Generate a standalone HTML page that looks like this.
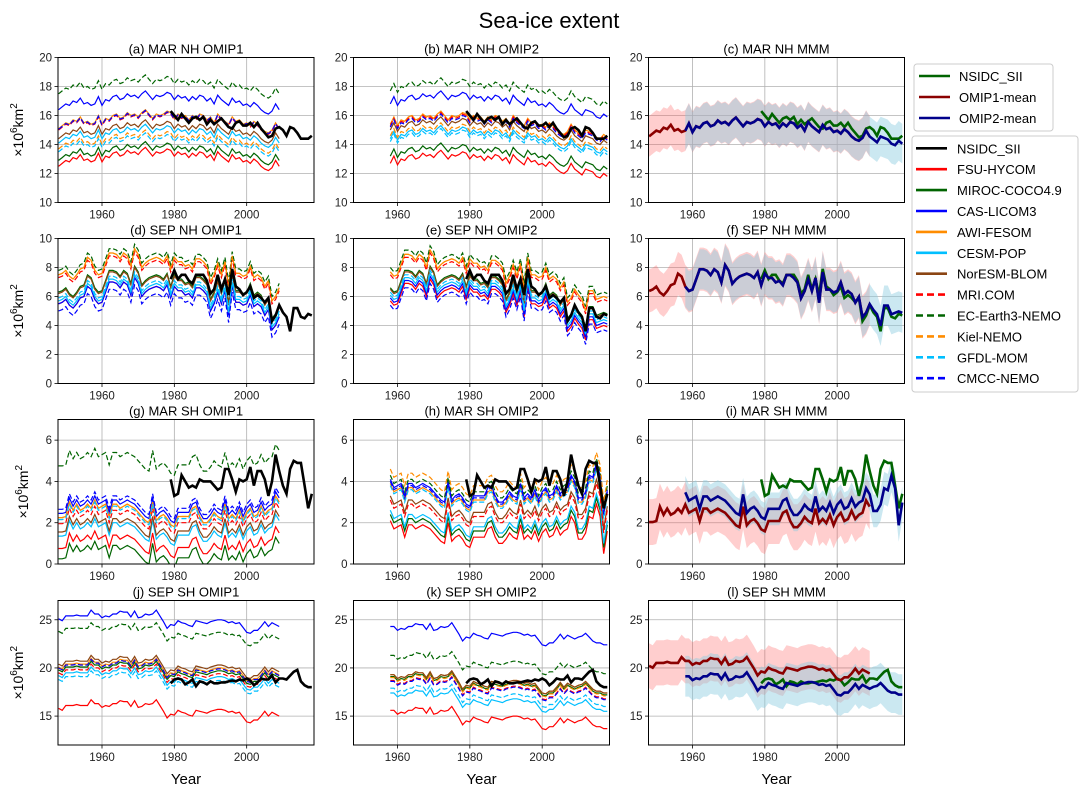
<!DOCTYPE html>
<html><head><meta charset="utf-8"><style>
body{margin:0;background:#fff;font-family:"Liberation Sans","DejaVu Sans",sans-serif}
svg{display:block}
</style></head><body>
<svg id="fig" width="1089" height="795" xmlns="http://www.w3.org/2000/svg" font-family="Liberation Sans, DejaVu Sans, sans-serif">
<text x="549" y="28" font-size="22" text-anchor="middle">Sea-ice extent</text>
</svg>
<script>
const models = ['FSU-HYCOM','MIROC-COCO4.9','CAS-LICOM3','AWI-FESOM','CESM-POP','NorESM-BLOM','MRI.COM','EC-Earth3-NEMO','Kiel-NEMO','GFDL-MOM','CMCC-NEMO'];
const modelColors = ['#ff0000','#006400','#0000ff','#ff8c00','#00bfff','#8b4513','#ff0000','#006400','#ff8c00','#00bfff','#0000ff'];
const modelDashed = [false,false,false,false,false,false,true,true,true,true,true];
const rowTitles = ['MAR NH','SEP NH','MAR SH','SEP SH'];
const yLims = [[10,20],[0,10],[0,7],[12,27]];
const yTicks = [[10,12,14,16,18,20],[0,2,4,6,8,10],[0,2,4,6],[15,20,25]];
const xTicks = [1960,1980,2000];
const bandScale = [1.0,1.6,1.0,1.0];
// base variability 1948-2018 per row
const baseMarNH = [15.0,15.2,15.4,15.3,15.6,15.5,15.8,15.4,15.5,15.3, 15.4,15.9,15.3,15.7,15.6,15.9,16.0,15.7,15.8,16.1, 15.9,16.0,15.8,16.1,16.3,16.0,15.7,16.0,15.9,16.0, 16.2,16.1,15.7,16.0,15.8,15.9,15.6,15.9,15.7,16.0, 15.9,15.6,15.8,15.4,16.0,15.7,15.5,15.3,15.8,15.5, 15.6,15.3,15.4,15.2,15.5,15.3,15.0,14.8,14.7,14.9, 15.4,15.0,14.8,14.6,15.0,14.9,14.8,14.5,14.4,14.7,14.5];
const baseSepNH = [6.2,6.3,6.5,6.1,5.9,6.2,6.6,6.7,7.4,7.2, 6.5,6.2,6.3,7.0,7.7,7.7,7.6,7.3,7.7,7.5, 6.8,8.0,7.6,6.7,7.0,7.2,7.3,7.4,7.3,7.1, 7.5,6.6,7.4,7.1,7.1,6.8,6.9,6.6,7.3,7.3, 7.1,6.8,5.7,6.2,7.0,6.2,7.1,5.4,7.5,6.3, 6.3,6.1,6.2,6.8,6.0,6.2,6.0,5.4,5.8,4.4, 4.7,5.3,4.9,4.6,3.8,5.2,5.2,4.6,4.7,4.8,4.7];
const baseMarSH = [1.85,1.85,1.9,2.6,2.2,2.5,2.2,2.3,2.5,2.3, 2.7,2.3,2.4,2.5,1.9,2.5,2.5,2.3,2.4,2.5, 2.4,2.3,2.1,1.9,1.7,1.6,2.6,1.7,1.9,2.0, 1.8,1.5,1.4,1.9,1.9,1.9,1.9,2.3,2.4,1.9, 1.6,1.6,1.8,2.1,1.9,1.8,2.5,1.8,2.0,1.8, 2.2,1.7,2.1,2.3,1.9,2.0,2.4,2.0,2.2,2.3, 2.9,2.6,1.8,1.8,2.1,2.9,2.8,3.5,2.9,1.1,2.2];
const baseSepSH = [19.8,19.6,20.1,20.1,20.1,20.2,20.1,20.1,20.1,20.7, 20.3,20.3,19.9,20.1,20.0,20.3,20.3,20.6,20.5,20.5, 20.0,20.6,19.9,20.0,20.3,20.2,20.3,20.7,20.1,19.5, 18.8,19.2,19.1,19.6,19.4,19.3,19.1,19.0,19.6,19.5, 19.4,19.3,19.5,19.6,19.7,19.7,19.6,19.4,19.5,19.3, 19.4,18.9,18.4,18.3,18.6,18.6,19.0,19.5,19.0,19.4, 19.2,19.0,19.2,19.3,19.6,19.2,18.8,18.6,18.6,18.4,18.4];
// model offsets (order as models)
const offMarNH1 = [-2.5,-2.1,1.4,0.1,-0.9,-0.6,0,2.5,-1.3,-1.5,0.05];
const offMarNH2 = [-2.7,-2.2,1.4,0.0,-1.0,-0.4,-0.1,2.3,-0.8,-1.2,-0.2];
const offSepNH1 = [-0.7,0.1,-0.7,1.3,-0.5,0,1.1,1.6,1.3,-0.3,-1.2];
const offSepNH2 = [-0.8,0.1,-0.6,1.2,-0.4,0,1.0,1.5,1.2,-0.2,-1.1];
const offMarSH1 = [-1.1,-1.6,0.6,0.4,-0.5,-0.3,0.1,2.9,0.4,0.3,0.8];
const offMarSH2 = [-0.6,-0.3,1.4,1.2,-0.1,0.6,0.4,1.6,1.9,1.1,1.3];
const offSepSH1 = [-4.0,0,5.3,0.3,-0.6,0.6,-0.3,4.0,0.2,-1.0,0.2];
const offSepSH2 = [-4.7,-1.2,4.0,-1.0,-2.9,-1.0,-1.6,1.0,-1.3,-2.4,-1.7];
// NSIDC observations 1979-2018
const obsMarNH = [16.3,16.0,15.7,16.1,15.8,15.5,15.8,15.9,15.7,15.9,15.4,15.7,15.4,15.6,15.8,15.5,15.2,15.1,15.5,15.6,15.3,15.3,15.5,15.2,15.5,15.1,14.8,14.5,14.6,15.1,15.2,15.0,14.6,15.2,15.1,14.8,14.4,14.4,14.4,14.6];
const obsSepNH = [7.2,7.8,7.2,7.5,7.5,7.1,6.9,7.5,7.5,7.5,7.1,6.2,6.5,7.5,6.5,7.2,6.1,7.9,6.7,6.5,6.1,6.3,6.7,5.9,6.1,5.9,5.6,5.9,4.3,4.7,5.4,4.9,4.6,3.6,5.2,5.2,4.6,4.5,4.8,4.7];
const obsMarSH = [4.1,3.3,3.4,4.3,4.0,3.7,3.8,3.7,4.1,4.0,4.0,4.0,3.8,3.6,3.7,4.6,4.6,4.1,3.5,4.1,4.0,4.1,4.7,3.8,4.5,4.5,4.1,3.3,4.0,5.3,4.5,3.8,3.4,4.6,5.0,4.9,4.9,3.8,2.7,3.4];
const obsSepSH = [18.4,18.8,18.9,18.8,18.3,18.5,18.8,18.1,18.6,18.5,18.3,18.6,18.4,18.4,18.5,18.5,18.6,18.7,18.6,18.8,18.7,18.9,18.7,18.2,18.5,18.9,18.8,18.8,19.2,18.5,18.9,18.9,18.8,19.2,19.6,19.8,18.6,18.2,18.0,18.0];

const bases=[baseMarNH,baseSepNH,baseMarSH,baseSepSH];
const offs1=[offMarNH1,offSepNH1,offMarSH1,offSepSH1];
const offs2=[offMarNH2,offSepNH2,offMarSH2,offSepSH2];
const obs=[obsMarNH,obsSepNH,obsMarSH,obsSepSH];
const colLeft=[58,353.5,648.5], W=256;
const rowTB=[[57.5,202.5],[238.5,383.5],[419.5,564],[600.5,745]];
const NS='http://www.w3.org/2000/svg';
const svg=document.getElementById('fig');
function mk(tag,attrs,parent){const e=document.createElementNS(NS,tag);for(const k in attrs)e.setAttribute(k,attrs[k]);(parent||svg).appendChild(e);return e;}
function years(a,b){const r=[];for(let y=a;y<=b;y++)r.push(y);return r;}
const letters='abcdefghijkl';

for(let r=0;r<4;r++){
  const [top,bot]=rowTB[r];const [y0,y1]=yLims[r];
  const ys=v=>bot-(v-y0)/(y1-y0)*(bot-top);
  for(let c=0;c<3;c++){
    const L=colLeft[c];
    const xs=yr=>L+44+(yr-1960)*3.617;
    const g=mk('g',{});
    
    
    const clipId='clip'+r+c;
    const cp=mk('clipPath',{id:clipId},g);mk('rect',{x:L,y:top,width:W,height:bot-top},cp);
    xTicks.forEach(t=>{mk('line',{x1:xs(t),x2:xs(t),y1:top,y2:bot,stroke:'#b0b0b0','stroke-width':0.8},g);
      const tk=mk('text',{x:xs(t),y:bot+16,'font-size':11.5,'text-anchor':'middle',fill:'#222'},g);tk.textContent=t;
      
      mk('line',{x1:xs(t),x2:xs(t),y1:bot,y2:bot+3.5,stroke:'#000','stroke-width':0.8},g);});
    yTicks[r].forEach(t=>{mk('line',{x1:L,x2:L+W,y1:ys(t),y2:ys(t),stroke:'#b0b0b0','stroke-width':0.8},g);
      const tk=mk('text',{x:L-6,y:ys(t)+4,'font-size':11.5,'text-anchor':'end',fill:'#222'},g);tk.textContent=t;
      
      mk('line',{x1:L-3.5,x2:L,y1:ys(t),y2:ys(t),stroke:'#000','stroke-width':0.8},g);});
    const pl=mk('g',{'clip-path':'url(#'+clipId+')'},g);
    const path=(arr,yrs)=>arr.map((v,i)=>(i?'L':'M')+xs(yrs[i]).toFixed(1)+','+ys(v).toFixed(1)).join('');
    const modelVals=(offs,yrs)=>offs.map(o=>yrs.map(y=>bases[r][y-1948]+o));
    const obsY=years(1979,2018);
    if(c<2){
      const yrs=c==0?years(1948,2009):years(1958,2018);
      const vals=modelVals(c==0?offs1[r]:offs2[r],yrs);
      vals.forEach((vs,m)=>{const p=mk('path',{d:path(vs,yrs),fill:'none',stroke:modelColors[m],'stroke-width':1.2},pl);
        if(modelDashed[m])p.setAttribute('stroke-dasharray','5,2.5');
        
        });
      const ob=mk('path',{d:path(obs[r],obsY),fill:'none',stroke:'#000','stroke-width':2.6},pl);
      
    } else {
      [[years(1948,2009),offs1[r],'rgba(255,80,80,0.28)','#8b0000','omip1'],[years(1958,2018),offs2[r],'rgba(140,205,225,0.45)','#00008b','omip2']].forEach(([yrs,offs,fc,lc,nm])=>{
        const vals=modelVals(offs,yrs);
        const mean=yrs.map((y,i)=>vals.reduce((s,v)=>s+v[i],0)/vals.length);
        const sd=yrs.map((y,i)=>bandScale[r]*Math.sqrt(vals.reduce((s,v)=>s+(v[i]-mean[i])**2,0)/vals.length));
        const up=mean.map((m,i)=>m+sd[i]), lo=mean.map((m,i)=>m-sd[i]);
        const d=path(up,yrs)+lo.slice().reverse().map((v,i)=>'L'+xs(yrs[yrs.length-1-i]).toFixed(1)+','+ys(v).toFixed(1)).join('')+'Z';
        const sh=mk('path',{d:d,fill:fc,stroke:'none'},pl);
        
        g['_'+nm]=[mean,yrs,lc];
      });
      const ob=mk('path',{d:path(obs[r],obsY),fill:'none',stroke:'#006400','stroke-width':2.6},pl);
      
      ['omip1','omip2'].forEach(nm=>{const [mean,yrs,lc]=g['_'+nm];
        const p=mk('path',{d:path(mean,yrs),fill:'none',stroke:lc,'stroke-width':2.6},pl);
        });
    }
    mk('rect',{x:L,y:top,width:W,height:bot-top,fill:'none',stroke:'#000','stroke-width':1},g);
    const tt=mk('text',{x:L+W/2,y:top-4,'font-size':13,'text-anchor':'middle'},g);
    tt.textContent='('+letters[r*3+c]+') '+rowTitles[r]+' '+(c==0?'OMIP1':c==1?'OMIP2':'MMM');
    
  }
  const yl=mk('text',{x:0,y:0,'font-size':14,'text-anchor':'middle',transform:'translate('+(r==2?28:23)+','+((top+bot)/2)+') rotate(-90)'});
  yl.innerHTML='×10<tspan dy="-6" font-size="10">6</tspan><tspan dy="6">km</tspan><tspan dy="-6" font-size="10">2</tspan>';
  
}
for(let c=0;c<3;c++){const t=mk('text',{x:colLeft[c]+W/2,y:784,'font-size':15,'text-anchor':'middle'});t.textContent='Year';
  }
const lg1=mk('g',{});
mk('rect',{x:914,y:64,width:139,height:67,rx:3,fill:'#fff',stroke:'#ccc'},lg1);
[['NSIDC_SII','#006400'],['OMIP1-mean','#8b0000'],['OMIP2-mean','#00008b']].forEach(([n,col],i)=>{
  const y=76+i*21;mk('line',{x1:919,x2:950,y1:y,y2:y,stroke:col,'stroke-width':2.6},lg1);
  const t=mk('text',{x:959,y:y+5,'font-size':13},lg1);t.textContent=n;
  });
const lg2=mk('g',{});
mk('rect',{x:912,y:136,width:166,height:256,rx:3,fill:'#fff',stroke:'#ccc'},lg2);
[['NSIDC_SII','#000',false]].concat(models.map((m,i)=>[m,modelColors[i],modelDashed[i]])).forEach(([n,col,ds],i)=>{
  const y=148.3+i*20.9;const l=mk('line',{x1:916,x2:947,y1:y,y2:y,stroke:col,'stroke-width':2.6},lg2);
  if(ds)l.setAttribute('stroke-dasharray','7,4');
  const t=mk('text',{x:957,y:y+5,'font-size':13},lg2);t.textContent=n;
  });
</script>
</body></html>
